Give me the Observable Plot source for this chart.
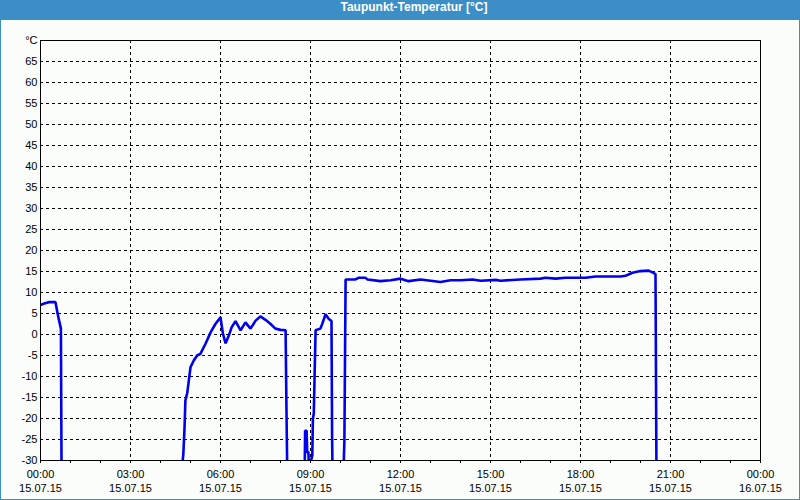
<!DOCTYPE html>
<html><head><meta charset="utf-8">
<script src="https://cdn.jsdelivr.net/npm/d3@7"></script>
<script src="https://cdn.jsdelivr.net/npm/@observablehq/plot@0.6"></script>
<style>
html,body{margin:0;padding:0;background:#fff}
#win{position:relative;width:800px;height:500px;background:#3c8ec6;overflow:hidden}
#inner{position:absolute;left:1px;top:20px;width:798px;height:479px;background:#fafdfa}
#title{position:absolute;left:0;top:0;width:800px;height:20px;line-height:20px;box-sizing:border-box;padding-left:28px;text-align:center;color:#fff;font:bold 12px "Liberation Sans", Arial, sans-serif}
#chart{position:absolute;left:0;top:20px}
</style></head><body>
<div id="win"><div id="inner"></div><div id="title"></div><div id="chart"></div></div>
<script>
const title = "Taupunkt-Temperatur [°C]";
const yUnit = "°C";
// time in hours since 15.07.15 00:00, null = no data (gap)
const hours = [
  0.02, 0.10, 0.27, 0.50, 0.57, 0.63, 0.68, 0.70, 0.71,
  4.74, 4.76, 4.80, 4.83, 4.89, 5.00, 5.11, 5.22, 5.33, 5.50, 5.67, 5.83, 6.00, 6.08, 6.17, 6.28, 6.37, 6.50, 6.67, 6.83, 7.00, 7.17, 7.33, 7.50, 7.67, 7.83, 8.00, 8.17, 8.20, 8.22, 8.23,
  8.81, 8.82, 8.87, 8.89, 8.93, 8.94, 8.95,
  9.02, 9.06, 9.08, 9.11, 9.14, 9.17, 9.33, 9.39, 9.50, 9.61, 9.70, 9.72, 9.73, 9.74,
  10.11, 10.13, 10.17, 10.50, 10.60, 10.83, 10.90, 11.33, 11.67, 12.00, 12.27, 12.67, 13.00, 13.33, 13.67, 14.00, 14.40, 14.67, 15.20, 15.33, 16.00, 16.67, 16.83, 17.17, 17.50, 18.17, 18.50, 19.33, 19.50, 19.60, 19.73, 20.00, 20.27, 20.40, 20.50, 20.53, 20.55
];
const dewpoint = [
  7.1, 7.3, 7.7, 7.7, 5.0, 3.0, 1.4, -30, null,
  -30, -28.6, -22.4, -15.7, -14.0, -7.8, -6.2, -5.0, -4.6, -2.2, 0.5, 2.5, 4.1, 0.2, -2.1, -0.2, 1.7, 3.2, 1.0, 2.9, 1.4, 3.3, 4.3, 3.5, 2.5, 1.4, 1.1, 1.0, -18.5, -30, null,
  -30, -22.9, -22.9, -28.0, -28.0, -30, null,
  -30, -28.8, -20.0, -18.8, -8.6, 1.0, 1.4, 2.5, 4.8, 3.7, 3.2, -24.5, -30, null,
  -30, -25.2, 13.1, 13.1, 13.5, 13.5, 13.1, 12.7, 12.9, 13.3, 12.7, 13.1, 12.8, 12.5, 12.9, 12.9, 13.1, 12.8, 13.0, 12.8, 13.1, 13.3, 13.5, 13.3, 13.5, 13.5, 13.8, 13.8, 14.0, 14.3, 14.7, 15.1, 15.2, 14.8, 14.4, -30
];
const yTicks = [-30,-25,-20,-15,-10,-5,0,5,10,15,20,25,30,35,40,45,50,55,60,65,70];
const xTicks = [0,1,2,3,4,5,6,7,8,9,10,11,12,13,14,15,16,17,18,19,20,21,22,23,24];
const xLabelHours = [0,3,6,9,12,15,18,21,24];
const timeLabels = ["00:00","03:00","06:00","09:00","12:00","15:00","18:00","21:00","00:00"];
const dateLabels = ["15.07.15","15.07.15","15.07.15","15.07.15","15.07.15","15.07.15","15.07.15","15.07.15","16.07.15"];

document.getElementById("title").textContent = title;

const data = hours.map((h, i) => ({h, v: dewpoint[i]}));
const timeOf = h => { const i = xLabelHours.indexOf(h); return i < 0 ? "" : timeLabels[i]; };
const dateOf = h => { const i = xLabelHours.indexOf(h); return i < 0 ? "" : dateLabels[i]; };

const chart = Plot.plot({
  width: 800,
  height: 480,
  marginLeft: 40,
  marginRight: 40,
  marginTop: 20,
  marginBottom: 20 + 0 + 20,
  style: {background: "transparent", fontFamily: "'Liberation Sans', Arial, sans-serif", fontSize: "11px", color: "black"},
  x: {domain: [0, 24]},
  y: {domain: [-30, 70]},
  marks: [
    Plot.ruleY(yTicks.filter(d => d > -30 && d < 70), {stroke: "black", strokeDasharray: "3,3", strokeWidth: 1, shapeRendering: "crispEdges"}),
    Plot.ruleX(xLabelHours.filter(d => d > 0 && d < 24), {stroke: "black", strokeDasharray: "3,3", strokeWidth: 1, shapeRendering: "crispEdges"}),
    Plot.line(data, {x: "h", y: "v", stroke: "#0000ee", strokeWidth: 2.6, clip: true, strokeLinejoin: "miter"}),
    Plot.frame({stroke: "black", strokeWidth: 1, shapeRendering: "crispEdges"}),
    Plot.axisY({ticks: yTicks, tickSize: 0, tickPadding: 3, tickFormat: d => d === 70 ? yUnit : String(d), label: null, fontSize: 11}),
    Plot.axisX({ticks: xTicks, tickSize: 3, tickPadding: 7, tickFormat: timeOf, label: null, fontSize: 11, shapeRendering: "crispEdges"}),
    Plot.axisX({ticks: xLabelHours, tickSize: 0, tickPadding: 24, tickFormat: dateOf, label: null, fontSize: 11})
  ]
});
document.getElementById("chart").appendChild(chart);
</script>
</body></html>
